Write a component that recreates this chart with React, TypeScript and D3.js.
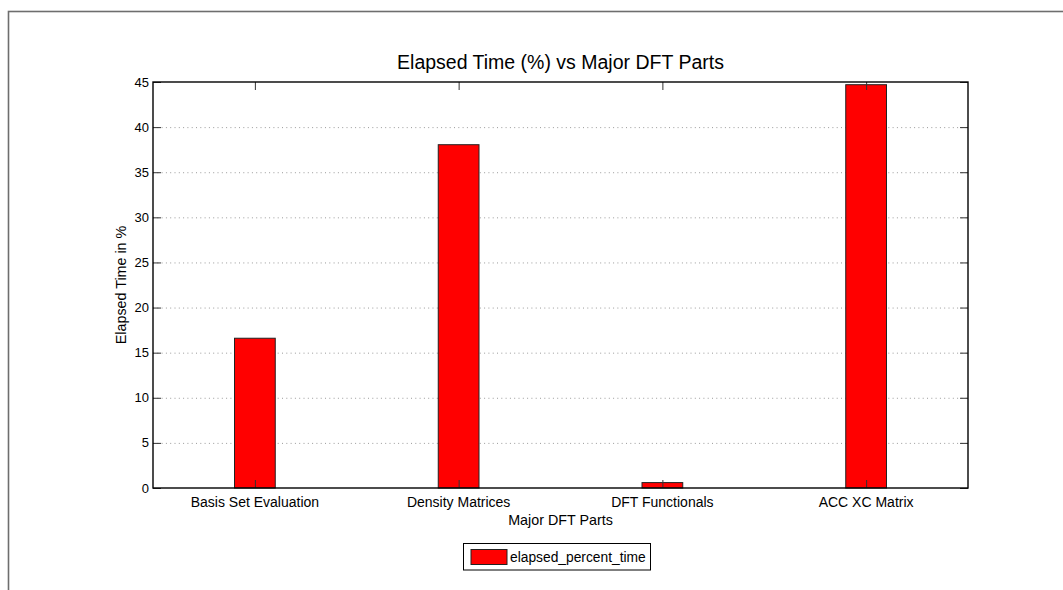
import React from "react";
import * as d3 from "d3";

const categories: string[] = [
  "Basis Set Evaluation",
  "Density Matrices",
  "DFT Functionals",
  "ACC XC Matrix",
];
const elapsedPercent: number[] = [16.6, 38.05, 0.6, 44.7];
const yTicks: number[] = [0, 5, 10, 15, 20, 25, 30, 35, 40, 45];
const seriesName = "elapsed_percent_time";

const W = 1063;
const H = 590;
const plot = { left: 153, top: 82, right: 968, bottom: 488 };
const FONT = "'Liberation Sans', Arial, Helvetica, sans-serif";

export default function App() {
  const x = d3
    .scaleLinear()
    .domain([0.5, categories.length + 0.5])
    .range([plot.left, plot.right]);
  const y = d3.scaleLinear().domain([0, 45]).range([plot.bottom, plot.top]);
  const band = x(1.5) - x(0.5);
  const barW = band * 0.2;
  const tickLen = 8;
  const midX = (plot.left + plot.right) / 2;

  return (
    <svg
      width={W}
      height={H}
      style={{ position: "absolute", left: 0, top: 0, background: "#fff" }}
      fontFamily={FONT}
    >
      {/* figure frame */}
      <rect x={8.5} y={11.5} width={W + 20} height={H + 20} fill="none" stroke="#6e6e6e" strokeWidth={1.6} />

      {/* horizontal dotted grid */}
      {yTicks.slice(1, -1).map((t) => (
        <line
          key={"g" + t}
          x1={plot.left}
          x2={plot.right}
          y1={y(t) + 0.5}
          y2={y(t) + 0.5}
          stroke="#9a9a9a"
          strokeWidth={1}
          strokeDasharray="1,3.3"
        />
      ))}

      {/* bars */}
      {elapsedPercent.map((v, i) => (
        <rect
          key={"b" + i}
          x={x(i + 1) - barW / 2}
          y={y(v)}
          width={barW}
          height={y(0) - y(v)}
          fill="#ff0000"
          stroke="#222"
          strokeWidth={1}
        />
      ))}

      {/* y ticks, left and right */}
      {yTicks.map((t) => (
        <g key={"yt" + t}>
          <line x1={plot.left} x2={plot.left + tickLen} y1={y(t) + 0.5} y2={y(t) + 0.5} stroke="#333" />
          <line x1={plot.right - tickLen} x2={plot.right} y1={y(t) + 0.5} y2={y(t) + 0.5} stroke="#333" />
          <text x={plot.left - 4} y={y(t)} dy="0.35em" textAnchor="end" fontSize={13} fill="#000">
            {t}
          </text>
        </g>
      ))}

      {/* x ticks, top and bottom */}
      {categories.map((c, i) => (
        <g key={"xt" + i}>
          <line x1={x(i + 1) + 0.5} x2={x(i + 1) + 0.5} y1={plot.top} y2={plot.top + tickLen} stroke="#333" />
          <line x1={x(i + 1) + 0.5} x2={x(i + 1) + 0.5} y1={plot.bottom} y2={plot.bottom - tickLen} stroke="#333" />
          <text x={x(i + 1)} y={plot.bottom + 19} textAnchor="middle" fontSize={14} fill="#000">
            {c}
          </text>
        </g>
      ))}

      {/* axes box */}
      <rect
        x={plot.left}
        y={plot.top}
        width={plot.right - plot.left}
        height={plot.bottom - plot.top}
        fill="none"
        stroke="#000"
        strokeWidth={1.4}
      />

      {/* title and axis labels */}
      <text x={midX} y={plot.top - 13} textAnchor="middle" fontSize={19.5} fill="#000">
        Elapsed Time (%) vs Major DFT Parts
      </text>
      <text x={midX} y={plot.bottom + 37} textAnchor="middle" fontSize={14.3} fill="#000">
        Major DFT Parts
      </text>
      <text
        transform={`translate(${126},${(plot.top + plot.bottom) / 2}) rotate(-90)`}
        textAnchor="middle"
        fontSize={14.3}
        fill="#000"
      >
        Elapsed Time in %
      </text>

      {/* legend */}
      <g>
        <rect x={463.5} y={543.5} width={187} height={26.5} fill="#fff" stroke="#000" strokeWidth={1} />
        <rect x={471} y={549.5} width={36} height={15} fill="#ff0000" stroke="#222" strokeWidth={1} />
        <text x={510} y={557} dy="0.35em" fontSize={13.8} fill="#000">
          {seriesName}
        </text>
      </g>
    </svg>
  );
}
